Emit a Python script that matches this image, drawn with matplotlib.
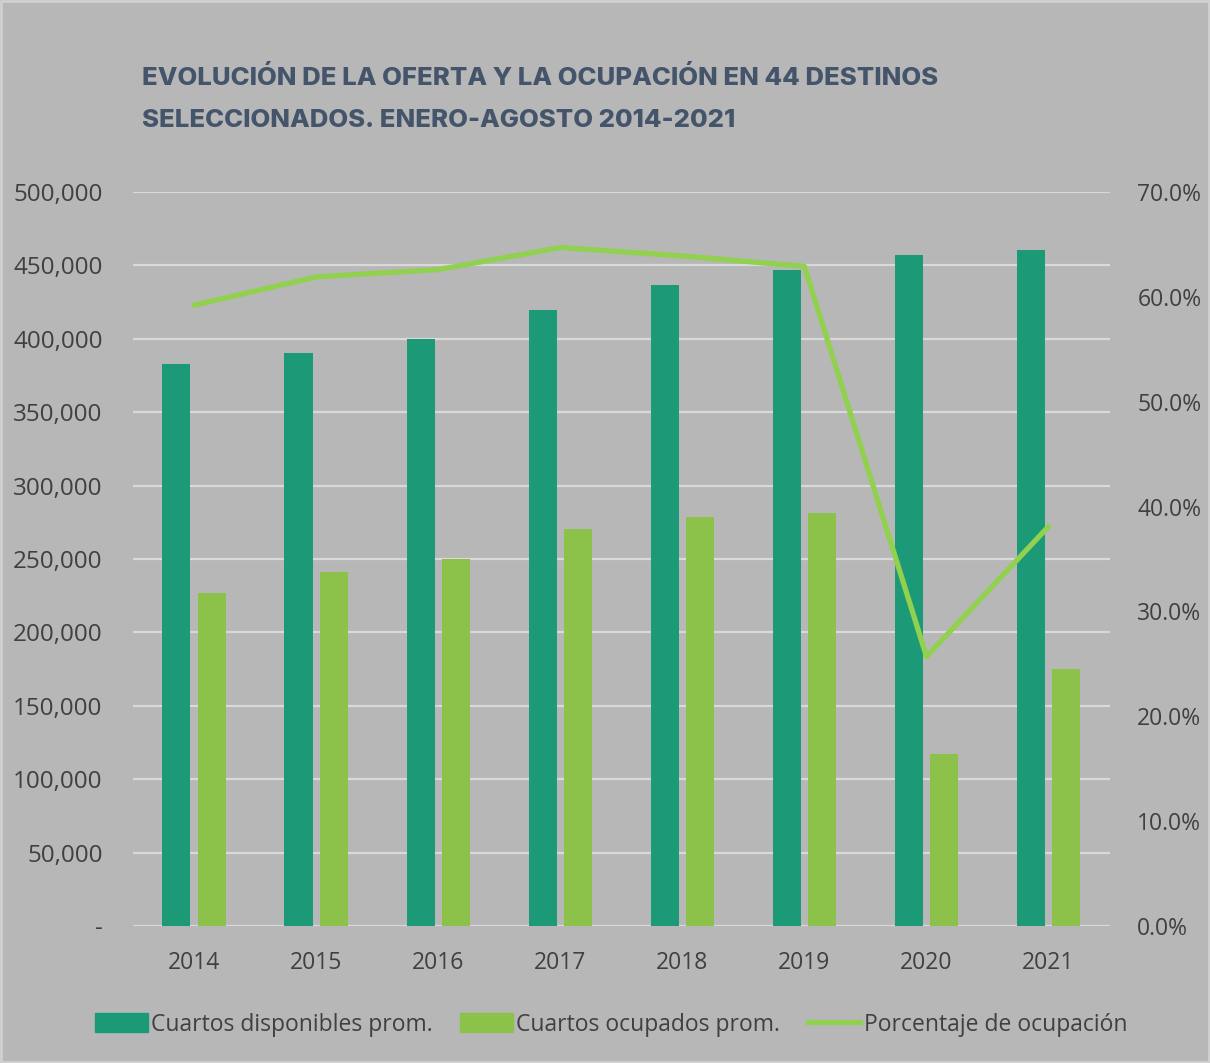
import matplotlib.pyplot as plt
import matplotlib.ticker as mticker
from matplotlib.patches import Rectangle
from matplotlib.lines import Line2D
import numpy as np

# Datos enero-agosto, 44 destinos
years = ['2014', '2015', '2016', '2017', '2018', '2019', '2020', '2021']
disponibles = [382900, 390300, 399900, 419600, 436600, 446900, 457100, 460500]
ocupados = [226800, 241100, 250000, 270400, 278600, 281300, 117200, 175100]
porcentaje = [59.2, 61.9, 62.6, 64.7, 63.9, 62.9, 25.7, 38.1]

bg = '#b7b7b7'
dark_green = '#1c9a78'
light_green = '#8cc24a'
line_green = '#92d050'
text_gray = '#404040'

plt.rcParams['font.family'] = ['Open Sans', 'DejaVu Sans']

fig = plt.figure(figsize=(12.1, 10.63), dpi=100)
fig.patch.set_facecolor(bg)
fig.patches.append(Rectangle((0.001, 0.001), 0.998, 0.998, transform=fig.transFigure,
                             fill=False, edgecolor='#d0d0d0', linewidth=2))

ax = fig.add_axes([0.110, 0.1289, 0.807, 0.6905])
ax.set_facecolor(bg)
x = np.arange(len(years))
w = 0.23
ax.bar(x - 0.145, disponibles, w, color=dark_green, zorder=2, label='Cuartos disponibles prom.')
ax.bar(x + 0.145, ocupados, w, color=light_green, zorder=2, label='Cuartos ocupados prom.')
ax.set_xlim(-0.5, len(years) - 0.5)
ax.set_ylim(0, 500000)
ax.set_yticks(np.arange(0, 500001, 50000))
ax.yaxis.set_major_formatter(mticker.FuncFormatter(lambda v, p: '-' if v == 0 else f'{v:,.0f}'))
ax.set_xticks(x)
ax.set_xticklabels(years)
ax.grid(axis='y', color='#d9d9d9', linewidth=1.6, zorder=1)
ax.tick_params(axis='y', length=0, pad=22, labelsize=17.5, labelcolor=text_gray)
ax.tick_params(axis='x', length=0, pad=18, labelsize=16.5, labelcolor=text_gray)
for s in ax.spines.values():
    s.set_visible(False)

ax2 = ax.twinx()
ax2.plot(x, porcentaje, color=line_green, linewidth=3.8, solid_capstyle='round', zorder=3)
ax2.set_ylim(0, 70)
ax2.set_yticks(np.arange(0, 71, 10))
ax2.yaxis.set_major_formatter(mticker.FuncFormatter(lambda v, p: f'{v:.1f}%'))
ax2.tick_params(axis='y', length=0, pad=20, labelsize=16.5, labelcolor=text_gray)
for s in ax2.spines.values():
    s.set_visible(False)

fig.text(0.117, 0.938, 'EVOLUCIÓN DE LA OFERTA Y LA OCUPACIÓN EN 44 DESTINOS\nSELECCIONADOS. ENERO-AGOSTO 2014-2021',
         fontsize=18.5, fontweight='heavy', family=['Inter', 'DejaVu Sans'], color='#44546a',
         va='top', ha='left', linespacing=2.05)

handles = [Rectangle((0, 0), 1, 1, color=dark_green),
           Rectangle((0, 0), 1, 1, color=light_green),
           Line2D([0], [0], color=line_green, linewidth=3.8)]
labels = ['Cuartos disponibles prom.', 'Cuartos ocupados prom.', 'Porcentaje de ocupación']
leg = fig.legend(handles, labels, loc='center', bbox_to_anchor=(0.505, 0.036), ncol=3,
                 frameon=False, fontsize=16.5, handlelength=2.3, handleheight=0.9,
                 handletextpad=0.15, columnspacing=1.2)
for t in leg.get_texts():
    t.set_color(text_gray)

fig.savefig('out.png', dpi=100, facecolor=bg)
plt.close(fig)
